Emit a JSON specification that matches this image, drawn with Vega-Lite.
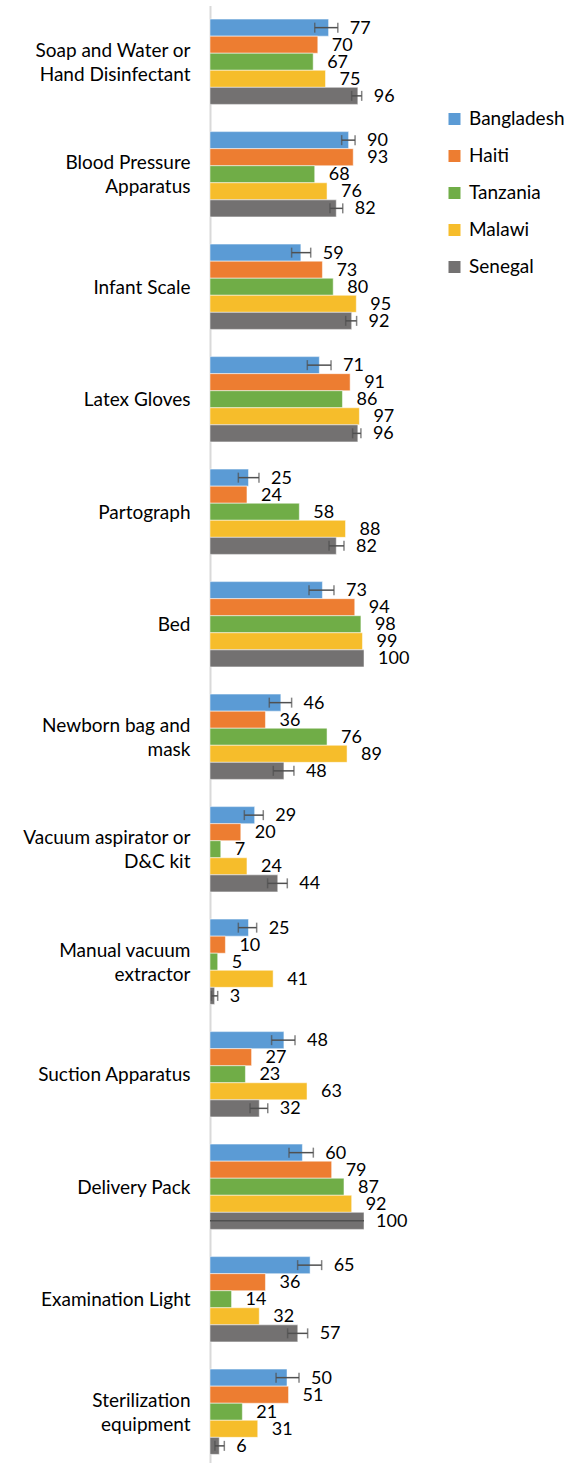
{
  "$schema": "https://vega.github.io/schema/vega-lite/v6.json",
  "autosize": {"type": "none"},
  "padding": {"left": 210, "top": 5.5, "right": 205, "bottom": 0},
  "width": 154,
  "height": 1462.5,
  "background": "white",
  "config": {
    "view": {"stroke": null},
    "font": "Lato"
  },
  "data": {
    "values": [
      {"item": "Soap and Water or|Hand Disinfectant", "country": "Bangladesh", "value": 77, "lo": 68, "hi": 83},
      {"item": "Soap and Water or|Hand Disinfectant", "country": "Haiti", "value": 70},
      {"item": "Soap and Water or|Hand Disinfectant", "country": "Tanzania", "value": 67},
      {"item": "Soap and Water or|Hand Disinfectant", "country": "Malawi", "value": 75},
      {"item": "Soap and Water or|Hand Disinfectant", "country": "Senegal", "value": 96, "lo": 92, "hi": 98.5},
      {"item": "Blood Pressure|Apparatus", "country": "Bangladesh", "value": 90, "lo": 85.5, "hi": 94.2},
      {"item": "Blood Pressure|Apparatus", "country": "Haiti", "value": 93},
      {"item": "Blood Pressure|Apparatus", "country": "Tanzania", "value": 68},
      {"item": "Blood Pressure|Apparatus", "country": "Malawi", "value": 76},
      {"item": "Blood Pressure|Apparatus", "country": "Senegal", "value": 82, "lo": 77.9, "hi": 86.2},
      {"item": "Infant Scale", "country": "Bangladesh", "value": 59, "lo": 53, "hi": 65.4},
      {"item": "Infant Scale", "country": "Haiti", "value": 73},
      {"item": "Infant Scale", "country": "Tanzania", "value": 80},
      {"item": "Infant Scale", "country": "Malawi", "value": 95},
      {"item": "Infant Scale", "country": "Senegal", "value": 92, "lo": 88.1, "hi": 95.2},
      {"item": "Latex Gloves", "country": "Bangladesh", "value": 71, "lo": 63.2, "hi": 78.6},
      {"item": "Latex Gloves", "country": "Haiti", "value": 91},
      {"item": "Latex Gloves", "country": "Tanzania", "value": 86},
      {"item": "Latex Gloves", "country": "Malawi", "value": 97},
      {"item": "Latex Gloves", "country": "Senegal", "value": 96, "lo": 92.6, "hi": 98},
      {"item": "Partograph", "country": "Bangladesh", "value": 25, "lo": 18.4, "hi": 31.8},
      {"item": "Partograph", "country": "Haiti", "value": 24},
      {"item": "Partograph", "country": "Tanzania", "value": 58},
      {"item": "Partograph", "country": "Malawi", "value": 88},
      {"item": "Partograph", "country": "Senegal", "value": 82, "lo": 77.3, "hi": 87},
      {"item": "Bed", "country": "Bangladesh", "value": 73, "lo": 64.3, "hi": 80.5},
      {"item": "Bed", "country": "Haiti", "value": 94},
      {"item": "Bed", "country": "Tanzania", "value": 98},
      {"item": "Bed", "country": "Malawi", "value": 99},
      {"item": "Bed", "country": "Senegal", "value": 100},
      {"item": "Newborn bag and|mask", "country": "Bangladesh", "value": 46, "lo": 38.5, "hi": 53},
      {"item": "Newborn bag and|mask", "country": "Haiti", "value": 36},
      {"item": "Newborn bag and|mask", "country": "Tanzania", "value": 76},
      {"item": "Newborn bag and|mask", "country": "Malawi", "value": 89},
      {"item": "Newborn bag and|mask", "country": "Senegal", "value": 48, "lo": 41.1, "hi": 54.5},
      {"item": "Vacuum aspirator or|D&C kit", "country": "Bangladesh", "value": 29, "lo": 22.3, "hi": 34.6},
      {"item": "Vacuum aspirator or|D&C kit", "country": "Haiti", "value": 20},
      {"item": "Vacuum aspirator or|D&C kit", "country": "Tanzania", "value": 7},
      {"item": "Vacuum aspirator or|D&C kit", "country": "Malawi", "value": 24},
      {"item": "Vacuum aspirator or|D&C kit", "country": "Senegal", "value": 44, "lo": 37.4, "hi": 50.2},
      {"item": "Manual vacuum|extractor", "country": "Bangladesh", "value": 25, "lo": 18.4, "hi": 30.3},
      {"item": "Manual vacuum|extractor", "country": "Haiti", "value": 10},
      {"item": "Manual vacuum|extractor", "country": "Tanzania", "value": 5},
      {"item": "Manual vacuum|extractor", "country": "Malawi", "value": 41},
      {"item": "Manual vacuum|extractor", "country": "Senegal", "value": 3, "lo": 1, "hi": 5},
      {"item": "Suction Apparatus", "country": "Bangladesh", "value": 48, "lo": 40, "hi": 55.2},
      {"item": "Suction Apparatus", "country": "Haiti", "value": 27},
      {"item": "Suction Apparatus", "country": "Tanzania", "value": 23},
      {"item": "Suction Apparatus", "country": "Malawi", "value": 63},
      {"item": "Suction Apparatus", "country": "Senegal", "value": 32, "lo": 26, "hi": 37.5},
      {"item": "Delivery Pack", "country": "Bangladesh", "value": 60, "lo": 51.3, "hi": 67.1},
      {"item": "Delivery Pack", "country": "Haiti", "value": 79},
      {"item": "Delivery Pack", "country": "Tanzania", "value": 87},
      {"item": "Delivery Pack", "country": "Malawi", "value": 92},
      {"item": "Delivery Pack", "country": "Senegal", "value": 100, "lo": 0, "hi": 100},
      {"item": "Examination Light", "country": "Bangladesh", "value": 65, "lo": 56.9, "hi": 72.5},
      {"item": "Examination Light", "country": "Haiti", "value": 36},
      {"item": "Examination Light", "country": "Tanzania", "value": 14},
      {"item": "Examination Light", "country": "Malawi", "value": 32},
      {"item": "Examination Light", "country": "Senegal", "value": 57, "lo": 50.4, "hi": 63.4},
      {"item": "Sterilization|equipment", "country": "Bangladesh", "value": 50, "lo": 42.9, "hi": 57.8},
      {"item": "Sterilization|equipment", "country": "Haiti", "value": 51},
      {"item": "Sterilization|equipment", "country": "Tanzania", "value": 21},
      {"item": "Sterilization|equipment", "country": "Malawi", "value": 31},
      {"item": "Sterilization|equipment", "country": "Senegal", "value": 6, "lo": 3.2, "hi": 9.3}
    ]
  },
  "encoding": {
    "y": {
      "field": "item", "type": "nominal", "sort": null,
      "scale": {"paddingInner": 0.242, "paddingOuter": 0.121},
      "axis": {
        "title": null, "ticks": false, "grid": false,
        "domainColor": "#D9D9D9", "domainWidth": 2,
        "labelFont": "Lato", "labelFontSize": 19, "labelColor": "#000000",
        "labelPadding": 20, "labelLineHeight": 24, "labelLimit": 250,
        "labelOffset": {"condition": {"test": "indexof(datum.label, '|') >= 0", "value": -11}, "value": 1},
        "labelExpr": "split(datum.label, '|')"
      }
    },
    "yOffset": {
      "field": "country", "type": "nominal", "sort": ["Bangladesh", "Haiti", "Tanzania", "Malawi", "Senegal"],
      "scale": {"paddingInner": 0, "paddingOuter": 0}
    }
  },
  "layer": [
    {
      "mark": {"type": "bar", "stroke": "white", "strokeWidth": 0.5},
      "encoding": {
        "x": {"field": "value", "type": "quantitative", "scale": {"domain": [0, 100]}, "axis": null},
        "color": {
          "field": "country", "type": "nominal",
          "scale": {
            "domain": ["Bangladesh", "Haiti", "Tanzania", "Malawi", "Senegal"],
            "range": ["#5B9BD5", "#ED7D31", "#70AD47", "#F6BD2B", "#737171"]
          },
          "legend": {
            "title": null, "orient": "none", "legendX": 235, "legendY": 104,
            "symbolType": "square", "symbolSize": 144, "symbolStrokeWidth": 0,
            "labelFont": "Lato", "labelFontSize": 19, "labelColor": "#000000",
            "labelOffset": 5, "rowPadding": 17
          }
        }
      }
    },
    {
      "transform": [{"filter": "isValid(datum.lo)"}],
      "mark": {"type": "rule", "color": "#505050", "strokeWidth": 1.5},
      "encoding": {
        "x": {"field": "lo", "type": "quantitative"},
        "x2": {"field": "hi"}
      }
    },
    {
      "transform": [{"filter": "isValid(datum.lo) && datum.hi - datum.lo < 50"}, {"fold": ["lo", "hi"], "as": ["end", "pos"]}],
      "mark": {"type": "tick", "color": "#505050", "thickness": 1.5, "size": 10, "orient": "vertical"},
      "encoding": {
        "x": {"field": "pos", "type": "quantitative"}
      }
    },
    {
      "transform": [{"filter": "isValid(datum.lo)"}],
      "mark": {"type": "text", "align": "left", "baseline": "middle", "dx": 12, "dy": 1, "font": "Lato", "fontSize": 18, "color": "#000000"},
      "encoding": {
        "x": {"field": "hi", "type": "quantitative"},
        "text": {"field": "value", "type": "quantitative"}
      }
    },
    {
      "transform": [{"filter": "!isValid(datum.lo)"}],
      "mark": {"type": "text", "align": "left", "baseline": "middle", "dx": 14, "dy": 1, "font": "Lato", "fontSize": 18, "color": "#000000"},
      "encoding": {
        "x": {"field": "value", "type": "quantitative"},
        "text": {"field": "value", "type": "quantitative"}
      }
    }
  ]
}
